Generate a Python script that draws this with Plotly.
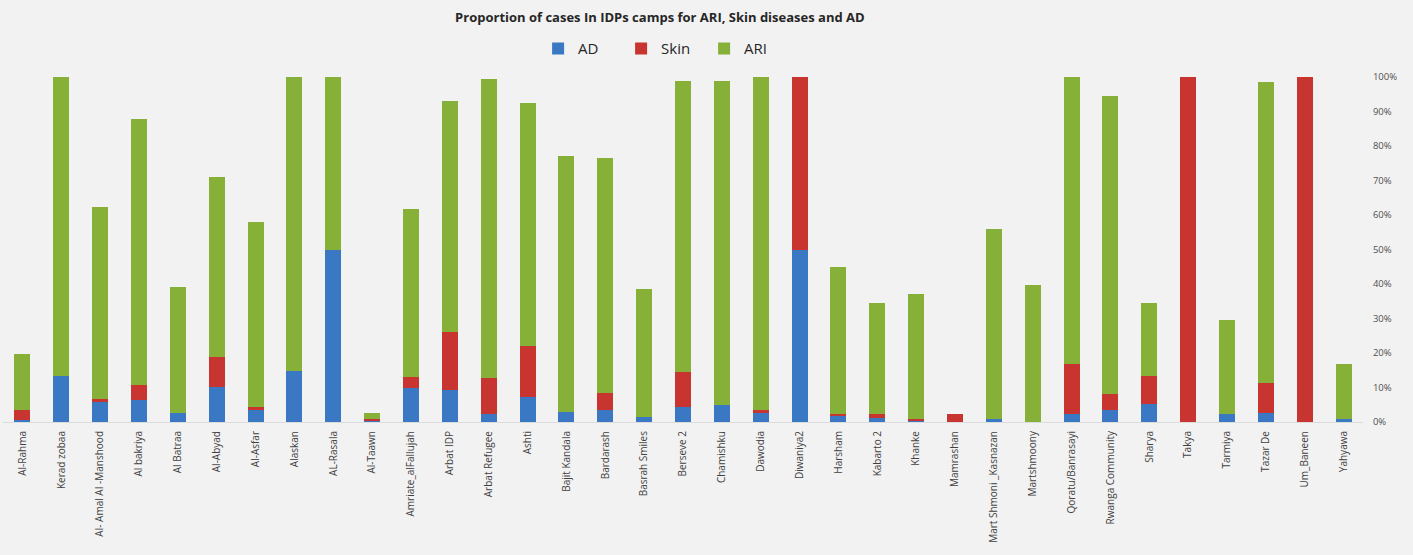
import plotly.graph_objects as go

camps = ["Al-Rahma", "Kerad zobaa", "AI- Amal AI -Manshood", "Al bakriya", "Al Batraa", "Al-Abyad",
         "Al-Asfar", "Alaskan", "AL-Rasala", "Al-Taawn", "Amriate_alFallujah", "Arbat IDP",
         "Arbat Refugee", "Ashti", "Bajit Kandala", "Bardarash", "Basrah Smiles", "Berseve 2",
         "Chamishku", "Dawodia", "Diwaniya2", "Harsham", "Kabarto 2", "Khanke",
         "Mamrashan", "Mart Shmoni _Kasnazan", "Martshmoony", "Qoratu/Banrasayi", "Rwanga Community",
         "Sharya", "Takya", "Tarmiya", "Tazar De", "Um_Baneen", "Yahyawa"]

ad = [0.5, 13.3, 5.8, 6.5, 2.6, 10.2, 3.4, 14.7, 50.0, 0.5, 10.0, 9.2,
      2.4, 7.3, 2.9, 3.6, 1.5, 4.4, 4.8, 2.6, 50.0, 1.9, 1.3, 0.5,
      0.0, 0.8, 0.0, 2.2, 3.4, 5.3, 0.0, 2.2, 2.6, 0.0, 1.0]
skin = [3.0, 0.0, 1.0, 4.1, 0.0, 8.7, 1.0, 0.0, 0.0, 0.5, 3.1, 16.9,
        10.4, 14.7, 0.0, 4.9, 0.0, 10.1, 0.0, 0.8, 50.0, 0.5, 1.1, 0.5,
        2.4, 0.0, 0.0, 14.5, 4.6, 8.0, 100.0, 0.0, 8.7, 100.0, 0.0]
ari = [16.3, 86.7, 55.6, 77.2, 36.4, 52.1, 53.6, 85.3, 50.0, 1.6, 48.7, 67.0,
       86.7, 70.6, 74.1, 68.0, 37.1, 84.4, 93.9, 96.5, 0.0, 42.4, 32.2, 36.0,
       0.0, 55.1, 39.7, 83.3, 86.6, 21.1, 0.0, 27.3, 87.2, 0.0, 15.7]

y_ticks = [0, 10, 20, 30, 40, 50, 60, 70, 80, 90, 100]
y_labels = ["0%", "10%", "20%", "30%", "40%", "50%", "60%", "70%", "80%", "90%", "100%"]

fig = go.Figure()
fig.add_trace(go.Bar(name="AD", x=camps, y=ad, marker=dict(color="#3a78c3", line=dict(width=0))))
fig.add_trace(go.Bar(name="Skin", x=camps, y=skin, marker=dict(color="#c8342f", line=dict(width=0))))
fig.add_trace(go.Bar(name="ARI", x=camps, y=ari, marker=dict(color="#86b038", line=dict(width=0))))

fig.update_layout(
    barmode="stack",
    bargap=0.59,
    width=1413, height=555,
    paper_bgcolor="#f2f2f2",
    plot_bgcolor="#f2f2f2",
    margin=dict(l=3, r=50, t=77, b=133),
    title=dict(text="<b>Proportion of cases In IDPs camps for ARI, Skin diseases and AD</b>",
               x=0.467, xanchor="center", y=0.969, yanchor="middle",
               font=dict(family="Open Sans", size=13, color="#262626")),
    legend=dict(orientation="h", x=0.485, xanchor="center", y=1.082, yanchor="middle",
                traceorder="normal", font=dict(family="Open Sans", size=15, color="#262626"),
                bgcolor="rgba(0,0,0,0)", itemwidth=30, entrywidth=38),
    font=dict(family="Open Sans", color="#404040"),
    showlegend=True,
)
fig.update_xaxes(tickangle=-90, tickfont=dict(size=10, color="#404040"), showgrid=False,
                 showline=True, linecolor="#dcdcdc", linewidth=1,
                 ticks="outside", ticklen=4, tickcolor="rgba(0,0,0,0)")
fig.update_yaxes(side="right", range=[0, 100], tickvals=y_ticks, ticktext=y_labels,
                 tickfont=dict(size=9.5, color="#505050"), showgrid=False, zeroline=False,
                 showline=False, ticks="outside", ticklen=7, tickcolor="rgba(0,0,0,0)")

fig.write_html("out.html", config={"displayModeBar": False},
               post_script="document.body.style.margin='0';")
